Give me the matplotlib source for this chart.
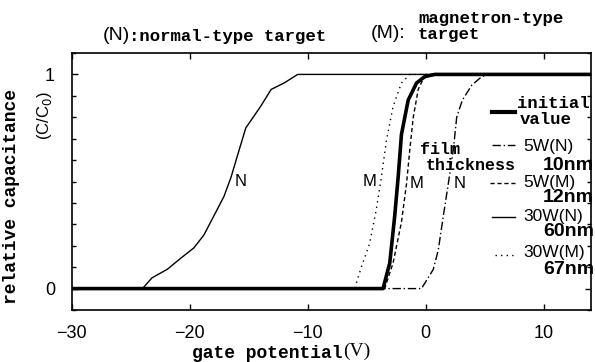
import numpy as np
import matplotlib
matplotlib.use("Agg")
import matplotlib.pyplot as plt

# C-V curves: gate potential (V) vs relative capacitance C/C0
v_initial = [-30, -3.62, -3.05, -2.63, -2.34, -2.06, -1.49, -0.78, -0.08, 0.77, 14]
c_initial = [0, 0, 0.12, 0.34, 0.52, 0.72, 0.88, 0.96, 0.99, 1.0, 1.0]

v_5wn = [-30, -0.36, 0.64, 1.06, 1.49, 1.91, 2.34, 2.62, 3.1, 3.9, 4.75, 5.4, 14]
c_5wn = [0, 0, 0.09, 0.18, 0.34, 0.49, 0.65, 0.80, 0.88, 0.95, 0.99, 1.0, 1.0]

v_5wm = [-30, -3.48, -2.77, -2.06, -1.63, -1.35, -1.06, -0.64, -0.21, 0.5, 14]
c_5wm = [0, 0, 0.12, 0.31, 0.49, 0.65, 0.80, 0.93, 0.98, 1.0, 1.0]

v_30wn = [-30, -24.0, -23.2, -21.9, -20.8, -19.65, -18.8, -17.95, -17.1, -16.5,
          -15.96, -15.25, -14.0, -13.1, -12.0, -10.85, 14]
c_30wn = [0, 0, 0.05, 0.09, 0.14, 0.19, 0.25, 0.34, 0.43, 0.52,
          0.62, 0.75, 0.85, 0.93, 0.96, 1.0, 1.0]

v_30wm = [-30, -6.03, -5.46, -4.76, -4.19, -3.76, -3.34, -2.77, -2.06, -1.35, 14]
c_30wm = [0, 0, 0.10, 0.21, 0.37, 0.52, 0.69, 0.85, 0.96, 1.0, 1.0]

# curve labels (N / M) next to the curves
curve_labels = ["N", "M", "M", "N"]
curve_label_v = [-15.7, -4.8, -0.78, 2.9]
curve_label_c = [0.5, 0.5, 0.49, 0.49]

legend_names = ["5W(N)", "5W(M)", "30W(N)", "30W(M)"]
legend_thick = ["10nm", "12nm", "60nm", "67nm"]

x_ticks = [-30, -20, -10, 0, 10]
y_ticks = [0, 1]

W, H = 595, 362
mono = "Liberation Mono"
sans = "Liberation Sans"

fig = plt.figure(figsize=(W / 100, H / 100), dpi=100)
ax = fig.add_axes([71.7 / W, 1 - 310 / H, (591 - 71.7) / W, (310 - 53) / H])


def fx(px):
    return px / W


def fy(py):
    return 1 - py / H


def axx(px):
    return (px - 71.7) / (591 - 71.7)


def axy(py):
    return (310 - py) / (310 - 53)


k = "black"
ax.plot(v_30wn, c_30wn, color=k, lw=1.0)
ax.plot(v_5wn, c_5wn, color=k, lw=1.0, dashes=(6, 2, 1, 2))
ax.plot(v_5wm, c_5wm, color=k, lw=1.0, dashes=(3, 2))
ax.plot(v_30wm, c_30wm, color=k, lw=1.0, dashes=(1, 3))
ax.plot(v_initial, c_initial, color=k, lw=2.6)

for lab, v, c in zip(curve_labels, curve_label_v, curve_label_c):
    ax.text(v, c, lab, family=sans, fontsize=12, ha="center", va="center")

ax.set_xlim(-30, 14)
ax.set_ylim(-0.1, 1.1)
ax.set_xticks(x_ticks)
ax.set_xticklabels([str(t).replace("-", "\u2212") for t in x_ticks], family=sans, fontsize=13)
ax.set_yticks(y_ticks)
ax.set_yticklabels([str(t) for t in y_ticks], family=sans, fontsize=13)
ax.set_yticks(np.arange(-0.1, 1.1, 0.1), minor=True)
ax.tick_params(which="both", direction="in", top=True, right=True, width=1)
ax.tick_params(axis="x", pad=11, length=4)
ax.tick_params(axis="y", pad=12, length=4)
ax.tick_params(which="minor", length=3)
for s in ax.spines.values():
    s.set_linewidth(1.2)

# hand-drawn legend on the right
samples = [
    (491.7, 515, 111.7, dict(lw=3)),
    (491.7, 515, 145, dict(lw=1.0, dashes=(6, 2, 1, 2))),
    (490, 515, 183.3, dict(lw=1.0, dashes=(3, 2))),
    (492, 515, 216.7, dict(lw=1.0)),
    (495, 513, 255, dict(lw=1.0, dashes=(1, 3))),
]
for x0, x1, y0, st in samples:
    ax.plot([axx(x0), axx(x1)], [axy(y0), axy(y0)], color=k,
            transform=ax.transAxes, clip_on=False, **st)

fig.text(fx(517), fy(103), "initial", family=mono, weight="bold", fontsize=12.5, va="center")
fig.text(fx(520), fy(119), "value", family=mono, weight="bold", fontsize=12.5, va="center")
fig.text(fx(420), fy(150), "film", family=mono, weight="bold", fontsize=12, va="center")
fig.text(fx(426), fy(165), "thickness", family=mono, weight="bold", fontsize=12, va="center")

name_y = [146, 183, 217, 253]
thick_y = [165, 197, 232, 270]
for name, th, ny, ty in zip(legend_names, legend_thick, name_y, thick_y):
    fig.text(fx(523), fy(ny), name, family=sans, fontsize=12.5, va="center")
    fig.text(fx(594), fy(ty), th, family=sans, weight="bold", fontsize=14,
             va="center", ha="right")

# header texts
fig.text(fx(116), fy(35), "(N)", family=sans, fontsize=14, ha="center", va="center")
fig.text(fx(129), fy(36), ":normal-type target", family=mono, weight="bold",
         fontsize=12.5, va="center")
fig.text(fx(371), fy(34), "(M):", family=sans, fontsize=14, va="center")
fig.text(fx(418), fy(18), "magnetron-type", family=mono, weight="bold",
         fontsize=12.5, va="center")
fig.text(fx(418), fy(35), "target", family=mono, weight="bold",
         fontsize=12.5, va="center")

# axis titles
fig.text(fx(12), fy(197), "relative capacitance", family=mono, weight="bold",
         fontsize=13, rotation=90, ha="center", va="center")
fig.text(fx(44), fy(116), "(C/C$_0$)", family=sans, fontsize=12,
         rotation=90, ha="center", va="center")
fig.text(fx(343), fy(353), "gate potential", family=mono, weight="bold",
         fontsize=13, ha="right", va="center")
fig.text(fx(343), fy(351), "(V)", family="Liberation Serif", fontsize=14,
         ha="left", va="center")

fig.savefig("out.png", dpi=100)
